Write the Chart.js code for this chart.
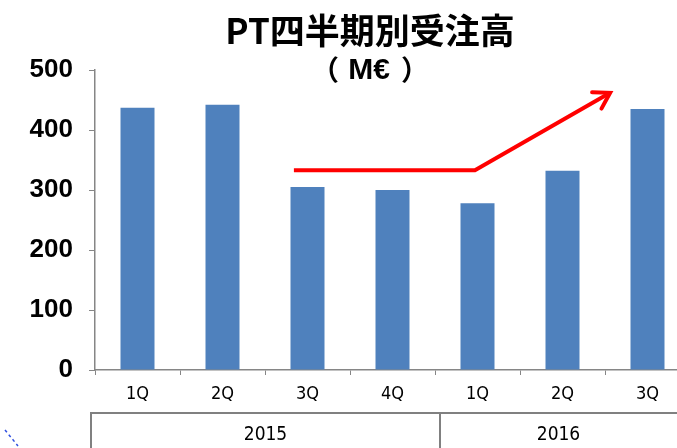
<!DOCTYPE html>
<html>
<head>
<meta charset="utf-8">
<script src="https://cdn.jsdelivr.net/npm/chart.js@4"></script>
<style>
  html, body { margin: 0; padding: 0; background: #fff; overflow: hidden; }
  #wrap { width: 700px; height: 448px; }
</style>
</head>
<body>
<div id="wrap"><canvas id="orders" width="700" height="448"></canvas></div>
<script>
// quarterly order intake, M€
const quarters = ['1Q', '2Q', '3Q', '4Q', '1Q', '2Q', '3Q'];
const years = ['2015', '2015', '2015', '2015', '2016', '2016', '2016'];
const orders = [437, 442, 305, 300, 278, 332, 435];
const yTicks = [0, 100, 200, 300, 400, 500];
// trend arrow, x in category index units
const trendX = [1.84, 3.97, 5.56];
const trendY = [333, 333, 462];

const titleText = 'PT四半期別受注高';
const unitText = 'M€';

const headings = {
  id: 'headings',
  afterDraw(chart) {
    const ctx = chart.ctx;
    ctx.save();
    ctx.fillStyle = '#000';
    ctx.textAlign = 'center';
    ctx.textBaseline = 'middle';
    ctx.font = 'bold 35px "Noto Sans CJK JP", sans-serif';
    ctx.fillText(titleText, 370, 31);
    // unit line: full-width brackets spaced like the original
    ctx.font = 'bold 30px "Liberation Sans", Arial, sans-serif';
    ctx.fillText(unitText, 369, 71);
    ctx.font = 'bold 28px "Noto Sans CJK JP", sans-serif';
    ctx.textAlign = 'right';
    ctx.fillText('（', 339, 70);
    ctx.textAlign = 'left';
    ctx.fillText('）', 401, 70);
    ctx.restore();
  }
};

const arrowHead = {
  id: 'arrowHead',
  afterDatasetsDraw(chart) {
    const meta = chart.getDatasetMeta(1);
    const pts = meta.data;
    const a = pts[pts.length - 2], b = pts[pts.length - 1];
    const ang = Math.atan2(b.y - a.y, b.x - a.x);
    const ctx = chart.ctx;
    ctx.save();
    ctx.strokeStyle = '#ff0000';
    ctx.lineWidth = 4;
    ctx.lineCap = 'round';
    ctx.beginPath();
    const len = 18, spread = 0.55;
    ctx.moveTo(b.x - len * Math.cos(ang - spread), b.y - len * Math.sin(ang - spread));
    ctx.lineTo(b.x, b.y);
    ctx.lineTo(b.x - len * Math.cos(ang + spread), b.y - len * Math.sin(ang + spread));
    ctx.stroke();
    ctx.restore();
  }
};

const yearRow = {
  id: 'yearRow',
  afterDraw(chart) {
    const x = chart.scales.x;
    const ctx = chart.ctx;
    const half = (x.getPixelForValue(1) - x.getPixelForValue(0)) / 2;
    const top = 413;
    ctx.save();
    ctx.strokeStyle = '#808080';
    ctx.lineWidth = 2;
    const groups = [];
    years.forEach((y, i) => {
      const g = groups[groups.length - 1];
      if (g && g.label === y) g.end = i; else groups.push({ label: y, start: i, end: i });
    });
    const left = x.getPixelForValue(0) - half - 4;
    ctx.beginPath();
    ctx.moveTo(left, 448);
    ctx.lineTo(left, top);
    ctx.lineTo(chart.width, top);
    ctx.stroke();
    ctx.fillStyle = '#000';
    ctx.font = '19px "DejaVu Sans Condensed", sans-serif';
    ctx.textAlign = 'center';
    ctx.textBaseline = 'middle';
    groups.forEach((g, k) => {
      const l = k === 0 ? left : x.getPixelForValue(g.start) - half + 5;
      const r = x.getPixelForValue(g.end) + half + 5;
      if (k > 0) {
        ctx.beginPath();
        ctx.moveTo(l, top);
        ctx.lineTo(l, 448);
        ctx.stroke();
      }
      ctx.fillText(g.label, (l + Math.min(r, 677)) / 2, 435);
    });
    // small blue dashed stroke at lower left
    ctx.strokeStyle = '#3050e0';
    ctx.lineWidth = 1.5;
    ctx.setLineDash([3, 3]);
    ctx.beginPath();
    ctx.moveTo(5, 430);
    ctx.lineTo(18, 446);
    ctx.stroke();
    ctx.restore();
  }
};

new Chart(document.getElementById('orders'), {
  type: 'bar',
  data: {
    labels: quarters,
    datasets: [{
      data: orders,
      backgroundColor: '#4f81bd',
      barPercentage: 0.4,
      categoryPercentage: 1.0,
      grouped: false,
      order: 2
    }, {
      type: 'line',
      data: trendX.map((v, i) => ({ x: v, y: trendY[i] })),
      xAxisID: 'x2',
      borderColor: '#ff0000',
      borderWidth: 4,
      pointRadius: 0,
      tension: 0,
      fill: false,
      order: 1
    }]
  },
  options: {
    responsive: false,
    animation: false,
    layout: { padding: { top: 70, right: 10, left: 0, bottom: 0 } },
    plugins: {
      legend: { display: false },
      tooltip: { enabled: false },
      title: { display: false }
    },
    scales: {
      y: {
        min: 0, max: 500,
        afterBuildTicks(axis) { axis.ticks = yTicks.map(v => ({ value: v })); },
        afterFit(axis) { axis.width = 95; },
        border: { color: '#868686', width: 1.5 },
        grid: { drawOnChartArea: false, color: '#868686', tickLength: 6 },
        ticks: {
          color: '#000',
          padding: 16,
          font: { family: '"Liberation Sans", Arial, sans-serif', size: 26, weight: 'bold' }
        }
      },
      x: {
        afterFit(axis) { axis.height = 78; },
        border: { color: '#868686', width: 1.5 },
        grid: { drawOnChartArea: false, color: '#868686', tickLength: 5 },
        ticks: {
          color: '#000',
          padding: 9,
          maxRotation: 0,
          font: { family: '"DejaVu Sans Condensed", sans-serif', size: 18 }
        }
      },
      x2: {
        type: 'linear',
        display: false,
        offset: false,
        min: -0.5,
        max: 6.5
      }
    }
  },
  plugins: [headings, arrowHead, yearRow]
});
</script>
</body>
</html>
